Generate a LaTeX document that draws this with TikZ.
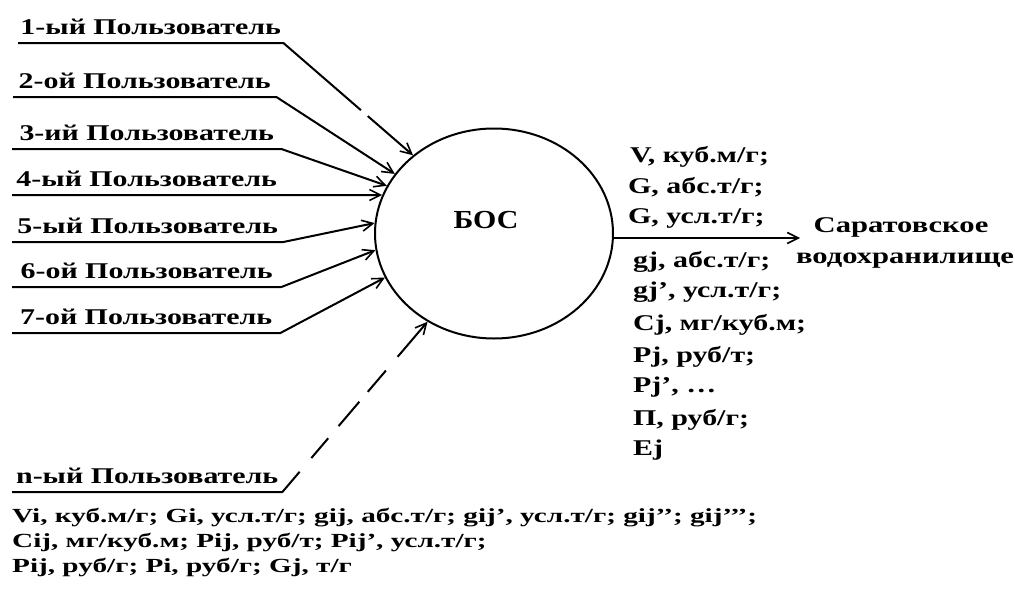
\documentclass[tikz,border=0pt]{standalone}
\usepackage{fontspec}
\newfontfamily\wlab{Liberation Serif}[FakeStretch=1.33]
\newfontfamily\wbot{Liberation Serif}[FakeStretch=1.46]
\newfontfamily\wsar{Liberation Serif}[FakeStretch=1.36]
\newfontfamily\wbos{Liberation Serif}[FakeStretch=1.15]
\usetikzlibrary{arrows.meta,shapes.geometric}
\begin{document}
\begin{tikzpicture}[x=1pt,y=-1pt,
  conn/.style={line width=2pt, line join=round, -{Straight Barb[length=11pt,width=11pt,line width=1.6pt]}},
  lbl/.style={anchor=south west, inner xsep=0pt, inner ysep=8pt, text depth=0pt, minimum width=269pt, font=\wlab\bfseries\fontsize{22.5}{26}\selectfont},
  row/.style={anchor=base west, inner sep=0pt, font=\wlab\bfseries\fontsize{22.5}{26}\selectfont},
  brow/.style={anchor=base west, inner sep=0pt, font=\wbot\bfseries\fontsize{20}{24}\selectfont},
  sar/.style={anchor=base, inner sep=0pt, font=\wsar\bfseries\fontsize{22.5}{26}\selectfont},
]
\useasboundingbox (0,0) rectangle (1015,597);
\fill[white] (0,0) rectangle (1015,597);

% central element
\node[draw, ellipse, line width=2pt, minimum width=238pt, minimum height=210pt, inner sep=0pt] (bos) at (494,233.5) {};
\node[anchor=base, inner sep=0pt, font=\wbos\bfseries\fontsize{26}{30}\selectfont] (bostxt) at (486,228) {БОС};

% users
\node[lbl, minimum width=265pt] (u1) at (18,43) {1-ый Пользователь};
\node[lbl, minimum width=263pt] (u2) at (13,97) {2-ой Пользователь};
\node[lbl] (u3) at (12,149) {3-ий Пользователь};
\node[lbl] (u4) at (12,195) {4-ый Пользователь};
\node[lbl, minimum width=271pt] (u5) at (12,242) {5-ый Пользователь};
\node[lbl] (u6) at (12,287) {6-ой Пользователь};
\node[lbl, minimum width=268pt] (u7) at (12,333) {7-ой Пользователь};
\node[lbl, minimum width=270pt] (un) at (12,492) {n-ый Пользователь};

\draw[conn, dash pattern=on 368pt off 9pt on 300pt] (u1.south west) -- (u1.south east) -- (bos.136);
\draw[conn] (u2.south west) -- (u2.south east) -- (bos.149);
\draw[conn] (u3.south west) -- (u3.south east) -- (bos.156);
\draw[conn] (u4.south west) -- (bos.161);
\draw[conn] (u5.south west) -- (u5.south east) -- (bos.175);
\draw[conn] (u6.south west) -- (u6.south east) -- (bos.188);
\draw[conn] (u7.south west) -- (u7.south east) -- (bos.202);
\draw[conn, dash pattern=on 297pt off 18pt on 26pt off 16pt on 32pt off 13pt on 28pt off 18pt on 60pt] (un.south west) -- (un.south east) -- (bos.233);

% output
\coordinate (outtip) at (800,238);
\draw[conn, line width=2.4pt] (outtip -| bos.east) -- (outtip);
\node[sar] (sar1) at (901,232) {Саратовское};
\node[sar] (sar2) at (905,263) {водохранилище};

% output parameters
\node[row] (o1) at (630,162) {V, куб.м/г;};
\node[row] (o2) at (628,193) {G, абс.т/г;};
\node[row] (o3) at (628,223) {G, усл.т/г;};
\node[row] (o4) at (633,267) {gj, абс.т/г;};
\node[row] (o5) at (633,297) {gj’, усл.т/г;};
\node[row] (o6) at (633,330) {Cj, мг/куб.м;};
\node[row] (o7) at (633,362) {Pj, руб/т;};
\node[row] (o8) at (633,392) {Pj’, …};
\node[row] (o9) at (633,425) {П, руб/г;};
\node[row] (o10) at (633,455) {Ej};

% input parameters
\node[brow] (b1) at (12,522) {Vi, куб.м/г; Gi, усл.т/г; gij, абс.т/г; gij’, усл.т/г; gij’’; gij’’’;};
\node[brow] (b2) at (12,547) {Cij, мг/куб.м; Pij, руб/т; Pij’, усл.т/г;};
\node[brow] (b3) at (12,572) {Pij, руб/г; Pi, руб/г; Gj, т/г};
\end{tikzpicture}
\end{document}
